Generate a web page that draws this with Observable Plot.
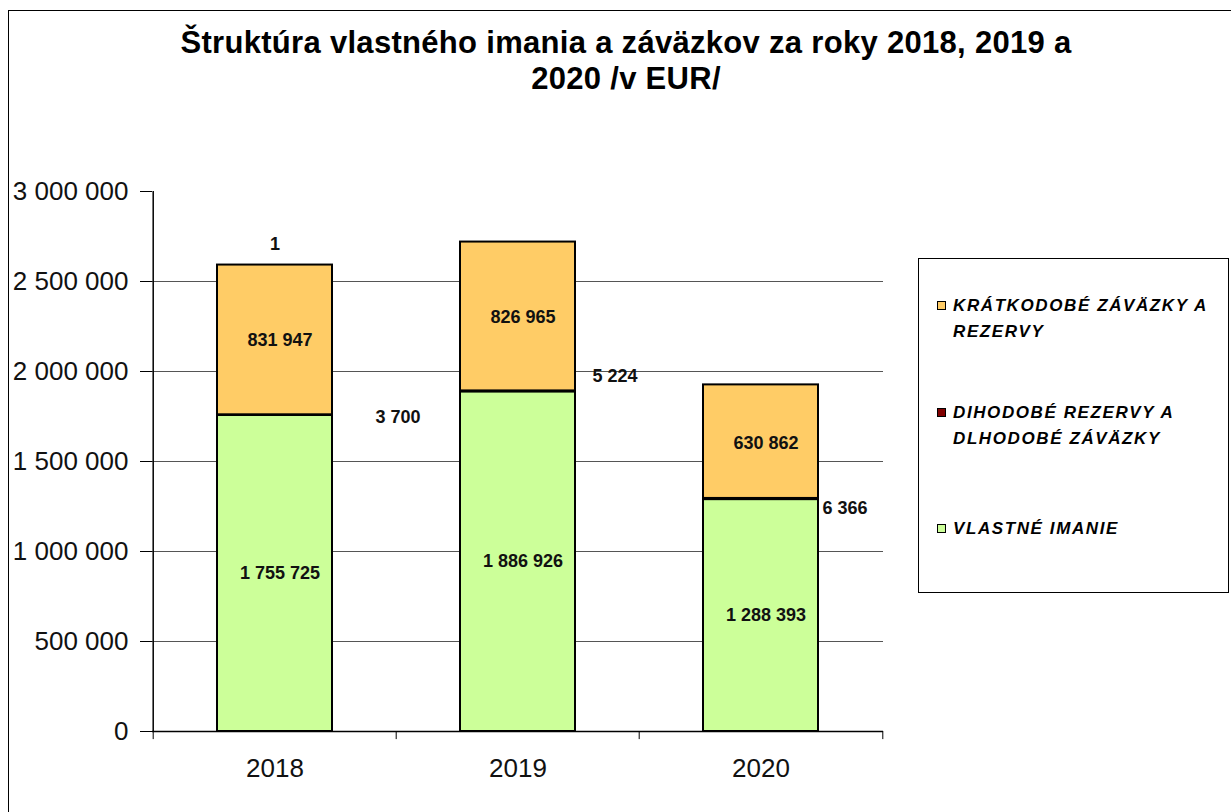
<!DOCTYPE html>
<html>
<head>
<meta charset="utf-8">
<script src="https://cdn.jsdelivr.net/npm/d3@7"></script>
<script src="https://cdn.jsdelivr.net/npm/@observablehq/plot@0.6"></script>
<style>
  html, body { margin: 0; padding: 0; background: #fff; overflow: hidden; }
  #wrap { position: relative; width: 1231px; height: 812px; font-family: "Liberation Sans", Arial, sans-serif; }
  #frame { position: absolute; left: 8px; top: 10px; width: 1240px; height: 820px; border-left: 1.5px solid #000; border-top: 1.5px solid #000; }
  #title { position: absolute; left: 0; width: 1252px; top: 25px; text-align: center; font-weight: bold; font-size: 31px; line-height: 36px; color: #000; letter-spacing: 0.3px; }
  #chart { position: absolute; left: 0; top: 0; }
  #legend { position: absolute; left: 918px; top: 258px; width: 309px; height: 333px; border: 1px solid #000; background: #fff; }
  .item { position: absolute; left: 18px; font-style: italic; font-weight: bold; font-size: 17px; line-height: 26px; color: #000; letter-spacing: 1.6px; }
  .sw { position: absolute; left: 0; top: 8px; width: 7px; height: 7px; border: 1.5px solid #000; }
  .txt { position: absolute; left: 16px; top: 0; white-space: nowrap; }
</style>
</head>
<body>
<div id="wrap">
  <div id="frame"></div>
  <div id="chart"></div>
  <div id="title"></div>
  <div id="legend"></div>
</div>
<script>
// ---- data ----
const years = ["2018", "2019", "2020"];
const seriesNames = ["VLASTNÉ IMANIE", "DIHODOBÉ REZERVY A DLHODOBÉ ZÁVÄZKY", "KRÁTKODOBÉ ZÁVÄZKY A REZERVY"];
const vlastneImanie = [1755725, 1886926, 1288393];
const dlhodobeZavazky = [3700, 5224, 6366];
const kratkodobeZavazky = [831947, 826965, 630862];
const topLabels = ["1", "", ""];
const yTicks = [0, 500000, 1000000, 1500000, 2000000, 2500000, 3000000];
const seriesColors = ["#CCFF99", "#800000", "#FFCC66"];
const legendLines = [
  ["KRÁTKODOBÉ ZÁVÄZKY A", "REZERVY"],
  ["DIHODOBÉ REZERVY A", "DLHODOBÉ ZÁVÄZKY"],
  ["VLASTNÉ IMANIE"]
];
const titleLines = ["Štruktúra vlastného imania a záväzkov za roky 2018, 2019 a", "2020 /v EUR/"];

// ---- layout (styling only) ----
const dlhoOffsets = [{dx: 123, dy: 2}, {dx: 97, dy: -15}, {dx: 84, dy: 9}];

// ---- build table ----
const seriesValues = [vlastneImanie, dlhodobeZavazky, kratkodobeZavazky];
const rows = [];
seriesNames.forEach((s, si) => years.forEach((y, yi) => rows.push({year: y, series: s, value: seriesValues[si][yi], yi})));
const totals = years.map((y, i) => ({year: y, total: vlastneImanie[i] + dlhodobeZavazky[i] + kratkodobeZavazky[i], label: topLabels[i]}));

const fmt = d => d3.format(",")(d).replace(/,/g, " ");

document.getElementById("title").innerHTML = titleLines.join("<br>");

const lg = document.getElementById("legend");
const legendSeries = [2, 1, 0];
const legendTops = [34, 141, 257];
legendSeries.forEach((si, k) => {
  const it = document.createElement("div");
  it.className = "item";
  it.style.top = legendTops[k] + "px";
  const sw = document.createElement("div");
  sw.className = "sw";
  sw.style.background = seriesColors[si];
  const tx = document.createElement("div");
  tx.className = "txt";
  tx.innerHTML = legendLines[k].join("<br>");
  it.appendChild(sw); it.appendChild(tx);
  lg.appendChild(it);
});

const plot = Plot.plot({
  width: 1231,
  height: 812,
  marginLeft: 152,
  marginRight: 348,
  marginTop: 191,
  marginBottom: 81,
  style: {fontFamily: "'Liberation Sans', Arial, sans-serif", background: "transparent", overflow: "visible", color: "#000"},
  x: {domain: years, paddingInner: 0.528, paddingOuter: 0.264, label: null},
  y: {domain: [0, 3000000], label: null},
  color: {domain: seriesNames, range: seriesColors},
  marks: [
    Plot.ruleY(yTicks.filter(t => t > 0 && t < 3000000), {stroke: "#555", strokeWidth: 1}),
    Plot.barY(rows, Plot.stackY({x: "year", y: "value", z: "series", order: seriesNames, fill: "series", stroke: "#000", strokeWidth: 2})),
    Plot.text(rows.filter(d => d.series !== seriesNames[1]), Plot.stackY({x: "year", y: "value", z: "series", order: seriesNames, text: d => fmt(d.value), dx: 5, fontSize: 18, fontWeight: "bold", fill: "#111"})),
    ...years.map((yr, i) => Plot.text([totals[i]], {x: "year", y: d => vlastneImanie[i] + dlhodobeZavazky[i] / 2, text: () => fmt(dlhodobeZavazky[i]), dx: dlhoOffsets[i].dx, dy: dlhoOffsets[i].dy, fontSize: 18, fontWeight: "bold", fill: "#111"})),
    Plot.text(totals.filter(d => d.label), {x: "year", y: "total", text: "label", dy: -21, fontSize: 18, fontWeight: "bold", fill: "#111"}),
    Plot.axisY({ticks: yTicks, tickFormat: fmt, tickSize: 12, tickPadding: 12, fontSize: 26, stroke: "#000", fill: "#111", label: null}),
    Plot.axisX({tickSize: 0, tickPadding: 27, fontSize: 26, fill: "#111", label: null}),
    Plot.ruleX(years, {x: d => d, dx: -121.8, y1: 0, y2: -45000, stroke: "#000", strokeWidth: 1}),
    Plot.ruleX([years[2]], {x: d => d, dx: 121.8, y1: 0, y2: -45000, stroke: "#000", strokeWidth: 1}),
    Plot.ruleY([0], {stroke: "#000", strokeWidth: 1.5}),
    Plot.ruleX([years[0]], {x: d => d, dx: -121.8, y1: 0, y2: 3000000, stroke: "#000", strokeWidth: 1.5})
  ]
});
document.getElementById("chart").appendChild(plot);
</script>
</body>
</html>
